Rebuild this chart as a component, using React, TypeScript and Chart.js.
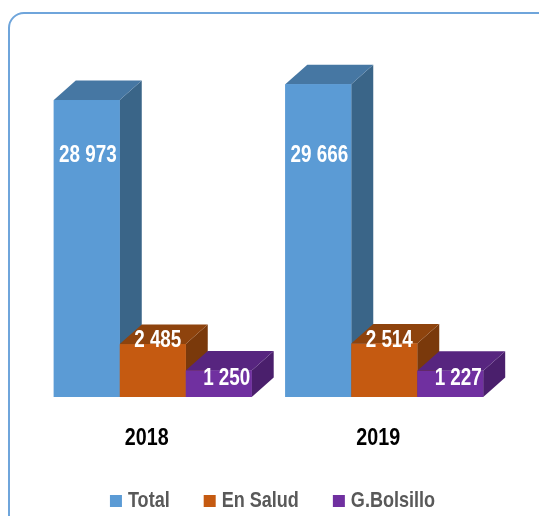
import React, { useEffect, useRef } from "react";
import { Chart, registerables } from "chart.js";

Chart.register(...registerables);

const categories = ["2018", "2019"];
const seriesNames = ["Total", "En Salud", "G.Bolsillo"];
const totalValues = [28973, 29666];
const saludValues = [2485, 2514];
const bolsilloValues = [1250, 1227];

const frontColors = ["#5B9BD5", "#C55A11", "#7030A0"];
const topColors = ["#4677A3", "#8E430D", "#57257F"];
const sideColors = ["#3A6588", "#7A390B", "#4A1F6C"];

const FONT = "'Liberation Sans', Arial, sans-serif";
const SQUEEZE = 0.82;

const fmt = (n: number) => n.toString().replace(/\B(?=(\d{3})+(?!\d))/g, " ");

function narrowText(ctx: CanvasRenderingContext2D, text: string, x: number, y: number, align: "left" | "center") {
  ctx.save();
  ctx.translate(x, y);
  ctx.scale(SQUEEZE, 1);
  ctx.textAlign = align;
  ctx.textBaseline = "middle";
  ctx.fillText(text, 0, 0);
  ctx.restore();
}

const depthPlugin = {
  id: "depth3d",
  afterDatasetsDraw(chart: any) {
    const ctx = chart.ctx as CanvasRenderingContext2D;
    const dx = 22;
    const dy = -19.5;
    ctx.save();
    chart.data.datasets.forEach((ds: any, di: number) => {
      const meta = chart.getDatasetMeta(di);
      meta.data.forEach((el: any) => {
        const { x, y, base, width } = el.getProps(["x", "y", "base", "width"], true);
        const l = x - width / 2;
        const r = x + width / 2;
        ctx.fillStyle = sideColors[di];
        ctx.beginPath();
        ctx.moveTo(r, y);
        ctx.lineTo(r + dx, y + dy);
        ctx.lineTo(r + dx, base + dy);
        ctx.lineTo(r, base);
        ctx.closePath();
        ctx.fill();
        ctx.fillStyle = topColors[di];
        ctx.beginPath();
        ctx.moveTo(l, y);
        ctx.lineTo(l + dx, y + dy);
        ctx.lineTo(r + dx, y + dy);
        ctx.lineTo(r, y);
        ctx.closePath();
        ctx.fill();
        ctx.fillStyle = frontColors[di];
        ctx.fillRect(l, y, width, base - y);
      });
    });
    // value labels
    ctx.fillStyle = "#FFFFFF";
    ctx.font = `bold 23px ${FONT}`;
    chart.data.datasets.forEach((ds: any, di: number) => {
      const meta = chart.getDatasetMeta(di);
      meta.data.forEach((el: any, i: number) => {
        const { x, y, base } = el.getProps(["x", "y", "base"], true);
        let lx = x;
        let ly = y;
        if (di === 0) {
          lx = x + 1;
          ly = base - 241;
        } else if (di === 1) {
          lx = x + 5;
          ly = y - 3;
        } else {
          lx = x + 8;
          ly = y + 8;
        }
        narrowText(ctx, fmt(ds.data[i]), lx, ly, "center");
      });
    });
    ctx.restore();
  },
  afterDraw(chart: any) {
    const ctx = chart.ctx as CanvasRenderingContext2D;
    ctx.save();
    // category labels
    const xs = chart.scales.x;
    const area = chart.chartArea;
    ctx.fillStyle = "#000000";
    ctx.font = `bold 24px ${FONT}`;
    categories.forEach((c, i) => {
      narrowText(ctx, c, xs.getPixelForValue(i) - 6, area.bottom + 41, "center");
    });
    // legend
    ctx.font = `bold 22px ${FONT}`;
    const box = 12;
    const gap = 6;
    const spacing = 34;
    const widths = seriesNames.map((s) => ctx.measureText(s).width * SQUEEZE);
    const total = widths.reduce((a, w) => a + box + gap + w, 0) + spacing * (seriesNames.length - 1);
    let x = chart.width / 2 + 3 - total / 2;
    const yc = 501;
    seriesNames.forEach((s, i) => {
      ctx.fillStyle = frontColors[i];
      ctx.fillRect(x, yc - 6, box, box);
      ctx.fillStyle = "#595959";
      narrowText(ctx, s, x + box + gap, yc, "left");
      x += box + gap + widths[i] + spacing;
    });
    ctx.restore();
  },
};

export default function App() {
  const canvasRef = useRef<HTMLCanvasElement | null>(null);

  useEffect(() => {
    const canvas = canvasRef.current;
    if (!canvas) return;
    const chart = new Chart(canvas, {
      type: "bar",
      data: {
        labels: categories,
        datasets: [
          { label: seriesNames[0], data: totalValues, yAxisID: "y", base: 16000, backgroundColor: frontColors[0] },
          { label: seriesNames[1], data: saludValues, yAxisID: "y1", backgroundColor: frontColors[1] },
          { label: seriesNames[2], data: bolsilloValues, yAxisID: "y1", backgroundColor: frontColors[2] },
        ],
      },
      options: {
        responsive: false,
        animation: false,
        layout: { padding: { top: 60, left: 37, right: 39, bottom: 119 } },
        datasets: { bar: { categoryPercentage: 0.855, barPercentage: 1 } },
        scales: {
          x: { display: false },
          y: { display: false, min: 16000, max: 30723 },
          y1: { display: false, min: 0, max: 15822 },
        },
        plugins: { legend: { display: false }, tooltip: { enabled: false } },
      },
      plugins: [depthPlugin],
    } as any);
    return () => chart.destroy();
  }, []);

  return (
    <div
      style={{
        position: "fixed",
        left: 0,
        top: 0,
        width: 539,
        height: 516,
        overflow: "hidden",
        background: "#FFFFFF",
      }}
    >
      <div
        style={{
          position: "absolute",
          left: 8,
          top: 12,
          width: 570,
          height: 560,
          border: "2px solid #6FA5DB",
          borderRadius: 16,
          boxSizing: "border-box",
        }}
      />
      <canvas
        ref={canvasRef}
        width={539}
        height={516}
        style={{ position: "absolute", left: 0, top: 0, width: 539, height: 516 }}
      />
    </div>
  );
}
